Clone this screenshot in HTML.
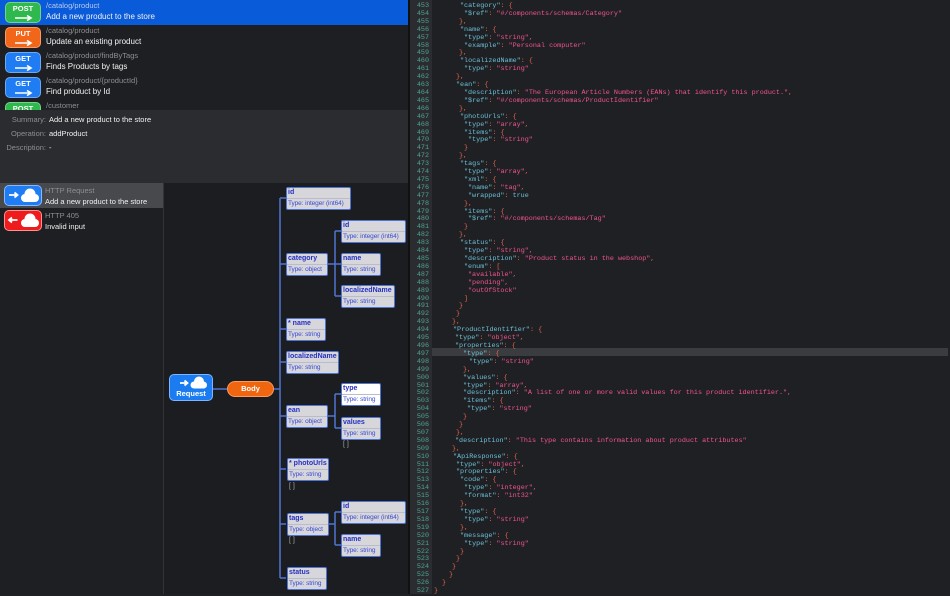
<!DOCTYPE html>
<html><head><meta charset="utf-8"><style>
*{margin:0;padding:0;box-sizing:border-box}
body{width:950px;height:594px;overflow:hidden;background:#1f2024;font-family:"Liberation Sans",sans-serif;position:relative}
.a{position:absolute}
.row{position:absolute;left:0;width:408px;height:25px}
.badge{position:absolute;left:5px;top:2px;width:36px;height:21px;border-radius:5px;color:#fff;font-weight:bold;font-size:7.5px;text-align:center;line-height:11px;border:1px solid rgba(255,255,255,.35)}
.badge svg{position:absolute;left:9px;top:12px}
.path{position:absolute;left:46px;top:1px;font-size:7.5px;color:#8e8e93}
.desc{position:absolute;left:46px;top:12px;font-size:8px;color:#f2f2f2}
.node{position:absolute;background:#d6d6db;border:1.5px solid #4f74d8;border-radius:2px;height:23px;white-space:nowrap;overflow:hidden}
.node b{display:block;font-size:7px;color:#2630c2;padding-left:1px;line-height:10px;border-bottom:1px solid #b9bccc}
.node i{display:block;font-style:normal;font-size:6.5px;letter-spacing:-0.1px;color:#3b4bd2;padding-left:1px;line-height:10px}
.arr{position:absolute;font-size:7px;color:#aaa}
#code{position:absolute;left:410px;top:3px;width:540px;height:591px;font-family:"Liberation Mono",monospace;font-size:6.75px;line-height:7.92px;color:#e8664a}
#code div{height:7.92px;white-space:pre;position:relative}
#code .n{position:absolute;left:0;width:19px;text-align:right;color:#4fa493}
#code .t{position:absolute}
.k{color:#6cc0d6}.s{color:#f2558a}
</style></head><body>
<div class="a" style="left:0;top:0;width:408px;height:110px;background:#1e1f22"></div>
<div class="row" style="top:0;background:#0a5bd9"><div class="badge" style="background:#2fb84e">POST<svg width="18" height="6"><path d="M0 3H15M12 0.5L16 3L12 5.5" stroke="#fff" stroke-width="1.6" fill="none"/></svg></div><div class="path" style="color:#b9c9f0">/catalog/product</div><div class="desc">Add a new product to the store</div></div>
<div class="row" style="top:25px"><div class="badge" style="background:#f2661a">PUT<svg width="18" height="6"><path d="M0 3H15M12 0.5L16 3L12 5.5" stroke="#fff" stroke-width="1.6" fill="none"/></svg></div><div class="path">/catalog/product</div><div class="desc">Update an existing product</div></div>
<div class="row" style="top:50px"><div class="badge" style="background:#1f7cf2">GET<svg width="18" height="6"><path d="M0 3H15M12 0.5L16 3L12 5.5" stroke="#fff" stroke-width="1.6" fill="none"/></svg></div><div class="path">/catalog/product/findByTags</div><div class="desc">Finds Products by tags</div></div>
<div class="row" style="top:75px"><div class="badge" style="background:#1f7cf2">GET<svg width="18" height="6"><path d="M0 3H15M12 0.5L16 3L12 5.5" stroke="#fff" stroke-width="1.6" fill="none"/></svg></div><div class="path">/catalog/product/{productId}</div><div class="desc">Find product by Id</div></div>
<div class="row" style="top:100px;height:10px;overflow:hidden"><div class="badge" style="background:#2fb84e">POST</div><div class="path">/customer</div></div>
<div class="a" style="left:0;top:110px;width:408px;height:73px;background:#2b2c2f"></div>
<div class="a" style="left:0;top:115px;width:46px;text-align:right;font-size:7.5px;color:#8e8e93">Summary:</div><div class="a" style="left:49px;top:115px;font-size:7.5px;color:#f0f0f0">Add a new product to the store</div>
<div class="a" style="left:0;top:129px;width:46px;text-align:right;font-size:7.5px;color:#8e8e93">Operation:</div><div class="a" style="left:49px;top:129px;font-size:7.5px;color:#f0f0f0">addProduct</div>
<div class="a" style="left:0;top:143px;width:46px;text-align:right;font-size:7.5px;color:#8e8e93">Description:</div><div class="a" style="left:49px;top:143px;font-size:7.5px;color:#f0f0f0">-</div>
<div class="a" style="left:0;top:183px;width:163px;height:411px;background:#1e1f22"></div>
<div class="a" style="left:0;top:183px;width:163px;height:25px;background:#48494c"></div>
<div class="a" style="left:163px;top:183px;width:1px;height:411px;background:#333"></div>
<div class="a" style="left:164px;top:183px;width:244px;height:411px;background:#1c1d20"></div>
<div class="a" style="left:4px;top:185px;width:38px;height:21px;border-radius:5px;background:#1f7cf2;border:1px solid #8ab8ff"><svg width="36" height="19"><path d="M4 9H12M9.5 6.5L12.5 9L9.5 11.5" stroke="#fff" stroke-width="1.8" fill="none"/><circle cx="20" cy="12" r="4" fill="#fff"/><circle cx="25" cy="8" r="5.5" fill="#fff"/><circle cx="30" cy="12" r="4" fill="#fff"/><rect x="20" y="11" width="10" height="5" fill="#fff"/></svg></div>
<div class="a" style="left:45px;top:186px;font-size:7.5px;color:#8e8e93">HTTP Request</div><div class="a" style="left:45px;top:197px;font-size:7.5px;color:#f0f0f0">Add a new product to the store</div>
<div class="a" style="left:4px;top:210px;width:38px;height:21px;border-radius:5px;background:#ee1c1c;border:1px solid #ff9090"><svg width="36" height="19"><path d="M12.5 9H4.5M7 6.5L4 9L7 11.5" stroke="#fff" stroke-width="1.8" fill="none"/><circle cx="20" cy="12" r="4" fill="#fff"/><circle cx="25" cy="8" r="5.5" fill="#fff"/><circle cx="30" cy="12" r="4" fill="#fff"/><rect x="20" y="11" width="10" height="5" fill="#fff"/></svg></div>
<div class="a" style="left:45px;top:211px;font-size:7.5px;color:#8e8e93">HTTP 405</div><div class="a" style="left:45px;top:222px;font-size:7.5px;color:#f0f0f0">Invalid input</div>
<svg class="a" style="left:0;top:0" width="410" height="594"><g stroke="#4f74d0" stroke-width="1.5" fill="none">
<path d="M213 389H227M274 389H280M280 198V578"/>
<path d="M280 198H286M280 264H286M280 329H286M280 362H286M280 416H286M280 469H286M280 524H286M280 578H286"/>
<path d="M328 264H335M335 231V296M335 231H341M335 264H341M335 296H341"/>
<path d="M328 416H335M335 394V428M335 394H341M335 428H341"/>
<path d="M329 524H335M335 512V545M335 512H341M335 545H341"/>
</g></svg>
<div class="a" style="left:169px;top:374px;width:44px;height:27px;border-radius:5px;background:#1a7cf0;border:1px solid #7fb4ff;color:#fff;font-weight:bold;font-size:7.5px;text-align:center"><svg width="42" height="14" style="display:block"><path d="M10 8H17M14.5 5.5L17.5 8L14.5 10.5" stroke="#fff" stroke-width="1.8" fill="none"/><circle cx="24" cy="10" r="3.5" fill="#fff"/><circle cx="29" cy="6.5" r="5" fill="#fff"/><circle cx="33.5" cy="10" r="3.5" fill="#fff"/><rect x="24" y="9" width="10" height="4.5" fill="#fff"/></svg>Request</div>
<div class="a" style="left:227px;top:381px;width:47px;height:16px;border-radius:8px;background:#f0650f;border:1px solid #ff9a5a;color:#fff;font-weight:bold;font-size:7.5px;text-align:center;line-height:14px">Body</div>
<div class="node" style="left:286px;top:187px;width:65px"><b>id</b><i>Type: integer (int64)</i></div>
<div class="node" style="left:286px;top:253px;width:42px"><b>category</b><i>Type: object</i></div>
<div class="node" style="left:341px;top:220px;width:65px"><b>id</b><i>Type: integer (int64)</i></div>
<div class="node" style="left:341px;top:253px;width:40px"><b>name</b><i>Type: string</i></div>
<div class="node" style="left:341px;top:285px;width:54px"><b>localizedName</b><i>Type: string</i></div>
<div class="node" style="left:286px;top:318px;width:40px"><b>* name</b><i>Type: string</i></div>
<div class="node" style="left:286px;top:351px;width:53px"><b>localizedName</b><i>Type: string</i></div>
<div class="node" style="left:286px;top:405px;width:42px"><b>ean</b><i>Type: object</i></div>
<div class="node" style="left:341px;top:383px;width:40px;background:#fff"><b>type</b><i>Type: string</i></div>
<div class="node" style="left:341px;top:417px;width:40px"><b>values</b><i>Type: string</i></div>
<div class="arr" style="left:343px;top:441px">[ ]</div>
<div class="node" style="left:287px;top:458px;width:42px"><b>* photoUrls</b><i>Type: string</i></div>
<div class="arr" style="left:289px;top:483px">[ ]</div>
<div class="node" style="left:287px;top:513px;width:42px"><b>tags</b><i>Type: object</i></div>
<div class="arr" style="left:289px;top:537px">[ ]</div>
<div class="node" style="left:341px;top:501px;width:65px"><b>id</b><i>Type: integer (int64)</i></div>
<div class="node" style="left:341px;top:534px;width:40px"><b>name</b><i>Type: string</i></div>
<div class="node" style="left:287px;top:567px;width:40px"><b>status</b><i>Type: string</i></div>
<div class="a" style="left:408px;top:0;width:2px;height:594px;background:#111"></div>
<div class="a" style="left:410px;top:0;width:22px;height:594px;background:#2a2c30"></div>
<div class="a" style="left:432px;top:348px;width:516px;height:8px;background:#3b3c3f"></div>
<div id="code">
<div><span class="n">453</span><span class="t" style="left:50px"><span class="k">"category"</span>: {</span></div>
<div><span class="n">454</span><span class="t" style="left:54px"><span class="k">"$ref"</span>: <span class="s">"#/components/schemas/Category"</span></span></div>
<div><span class="n">455</span><span class="t" style="left:49px">},</span></div>
<div><span class="n">456</span><span class="t" style="left:50px"><span class="k">"name"</span>: {</span></div>
<div><span class="n">457</span><span class="t" style="left:54px"><span class="k">"type"</span>: <span class="s">"string"</span>,</span></div>
<div><span class="n">458</span><span class="t" style="left:54px"><span class="k">"example"</span>: <span class="s">"Personal computer"</span></span></div>
<div><span class="n">459</span><span class="t" style="left:49px">},</span></div>
<div><span class="n">460</span><span class="t" style="left:50px"><span class="k">"localizedName"</span>: {</span></div>
<div><span class="n">461</span><span class="t" style="left:54px"><span class="k">"type"</span>: <span class="s">"string"</span></span></div>
<div><span class="n">462</span><span class="t" style="left:46px">},</span></div>
<div><span class="n">463</span><span class="t" style="left:46px"><span class="k">"ean"</span>: {</span></div>
<div><span class="n">464</span><span class="t" style="left:54px"><span class="k">"description"</span>: <span class="s">"The European Article Numbers (EANs) that identify this product."</span>,</span></div>
<div><span class="n">465</span><span class="t" style="left:54px"><span class="k">"$ref"</span>: <span class="s">"#/components/schemas/ProductIdentifier"</span></span></div>
<div><span class="n">466</span><span class="t" style="left:49px">},</span></div>
<div><span class="n">467</span><span class="t" style="left:50px"><span class="k">"photoUrls"</span>: {</span></div>
<div><span class="n">468</span><span class="t" style="left:54px"><span class="k">"type"</span>: <span class="s">"array"</span>,</span></div>
<div><span class="n">469</span><span class="t" style="left:54px"><span class="k">"items"</span>: {</span></div>
<div><span class="n">470</span><span class="t" style="left:58px"><span class="k">"type"</span>: <span class="s">"string"</span></span></div>
<div><span class="n">471</span><span class="t" style="left:54px">}</span></div>
<div><span class="n">472</span><span class="t" style="left:49px">},</span></div>
<div><span class="n">473</span><span class="t" style="left:50px"><span class="k">"tags"</span>: {</span></div>
<div><span class="n">474</span><span class="t" style="left:54px"><span class="k">"type"</span>: <span class="s">"array"</span>,</span></div>
<div><span class="n">475</span><span class="t" style="left:54px"><span class="k">"xml"</span>: {</span></div>
<div><span class="n">476</span><span class="t" style="left:58px"><span class="k">"name"</span>: <span class="s">"tag"</span>,</span></div>
<div><span class="n">477</span><span class="t" style="left:58px"><span class="k">"wrapped"</span>: <span class="k">true</span></span></div>
<div><span class="n">478</span><span class="t" style="left:54px">},</span></div>
<div><span class="n">479</span><span class="t" style="left:54px"><span class="k">"items"</span>: {</span></div>
<div><span class="n">480</span><span class="t" style="left:58px"><span class="k">"$ref"</span>: <span class="s">"#/components/schemas/Tag"</span></span></div>
<div><span class="n">481</span><span class="t" style="left:54px">}</span></div>
<div><span class="n">482</span><span class="t" style="left:49px">},</span></div>
<div><span class="n">483</span><span class="t" style="left:50px"><span class="k">"status"</span>: {</span></div>
<div><span class="n">484</span><span class="t" style="left:54px"><span class="k">"type"</span>: <span class="s">"string"</span>,</span></div>
<div><span class="n">485</span><span class="t" style="left:54px"><span class="k">"description"</span>: <span class="s">"Product status in the webshop"</span>,</span></div>
<div><span class="n">486</span><span class="t" style="left:54px"><span class="k">"enum"</span>: [</span></div>
<div><span class="n">487</span><span class="t" style="left:58px"><span class="s">"available"</span>,</span></div>
<div><span class="n">488</span><span class="t" style="left:58px"><span class="s">"pending"</span>,</span></div>
<div><span class="n">489</span><span class="t" style="left:58px"><span class="s">"outOfStock"</span></span></div>
<div><span class="n">490</span><span class="t" style="left:54px">]</span></div>
<div><span class="n">491</span><span class="t" style="left:49px">}</span></div>
<div><span class="n">492</span><span class="t" style="left:46px">}</span></div>
<div><span class="n">493</span><span class="t" style="left:42px">},</span></div>
<div><span class="n">494</span><span class="t" style="left:43px"><span class="k">"ProductIdentifier"</span>: {</span></div>
<div><span class="n">495</span><span class="t" style="left:45px"><span class="k">"type"</span>: <span class="s">"object"</span>,</span></div>
<div><span class="n">496</span><span class="t" style="left:45px"><span class="k">"properties"</span>: {</span></div>
<div><span class="n">497</span><span class="t" style="left:53px"><span class="k">"type"</span>: {</span></div>
<div><span class="n">498</span><span class="t" style="left:59px"><span class="k">"type"</span>: <span class="s">"string"</span></span></div>
<div><span class="n">499</span><span class="t" style="left:53px">},</span></div>
<div><span class="n">500</span><span class="t" style="left:53px"><span class="k">"values"</span>: {</span></div>
<div><span class="n">501</span><span class="t" style="left:53px"><span class="k">"type"</span>: <span class="s">"array"</span>,</span></div>
<div><span class="n">502</span><span class="t" style="left:53px"><span class="k">"description"</span>: <span class="s">"A list of one or more valid values for this product identifier."</span>,</span></div>
<div><span class="n">503</span><span class="t" style="left:53px"><span class="k">"items"</span>: {</span></div>
<div><span class="n">504</span><span class="t" style="left:57px"><span class="k">"type"</span>: <span class="s">"string"</span></span></div>
<div><span class="n">505</span><span class="t" style="left:53px">}</span></div>
<div><span class="n">506</span><span class="t" style="left:49px">}</span></div>
<div><span class="n">507</span><span class="t" style="left:46px">},</span></div>
<div><span class="n">508</span><span class="t" style="left:45px"><span class="k">"description"</span>: <span class="s">"This type contains information about product attributes"</span></span></div>
<div><span class="n">509</span><span class="t" style="left:42px">},</span></div>
<div><span class="n">510</span><span class="t" style="left:43px"><span class="k">"ApiResponse"</span>: {</span></div>
<div><span class="n">511</span><span class="t" style="left:46px"><span class="k">"type"</span>: <span class="s">"object"</span>,</span></div>
<div><span class="n">512</span><span class="t" style="left:46px"><span class="k">"properties"</span>: {</span></div>
<div><span class="n">513</span><span class="t" style="left:50px"><span class="k">"code"</span>: {</span></div>
<div><span class="n">514</span><span class="t" style="left:54px"><span class="k">"type"</span>: <span class="s">"integer"</span>,</span></div>
<div><span class="n">515</span><span class="t" style="left:54px"><span class="k">"format"</span>: <span class="s">"int32"</span></span></div>
<div><span class="n">516</span><span class="t" style="left:50px">},</span></div>
<div><span class="n">517</span><span class="t" style="left:50px"><span class="k">"type"</span>: {</span></div>
<div><span class="n">518</span><span class="t" style="left:54px"><span class="k">"type"</span>: <span class="s">"string"</span></span></div>
<div><span class="n">519</span><span class="t" style="left:50px">},</span></div>
<div><span class="n">520</span><span class="t" style="left:50px"><span class="k">"message"</span>: {</span></div>
<div><span class="n">521</span><span class="t" style="left:54px"><span class="k">"type"</span>: <span class="s">"string"</span></span></div>
<div><span class="n">522</span><span class="t" style="left:50px">}</span></div>
<div><span class="n">523</span><span class="t" style="left:46px">}</span></div>
<div><span class="n">524</span><span class="t" style="left:42px">}</span></div>
<div><span class="n">525</span><span class="t" style="left:39px">}</span></div>
<div><span class="n">526</span><span class="t" style="left:32px">}</span></div>
<div><span class="n">527</span><span class="t" style="left:24px">}</span></div>
</div>
</body></html>
